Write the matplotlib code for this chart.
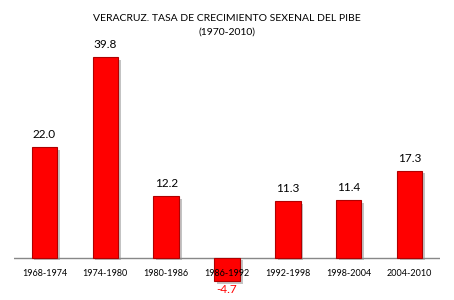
import matplotlib
matplotlib.use("Agg")
import matplotlib.pyplot as plt
import matplotlib.patheffects as pe

periods = ["1968-1974", "1974-1980", "1980-1986", "1986-1992", "1992-1998", "1998-2004", "2004-2010"]
growth = [22.0, 39.8, 12.2, -4.7, 11.3, 11.4, 17.3]
title = "VERACRUZ. TASA DE CRECIMIENTO SEXENAL DEL PIBE\n(1970-2010)"

plt.rcParams['font.family'] = ['Lato', 'DejaVu Sans']

fig = plt.figure(figsize=(4.54, 3.0), dpi=100)
ax = fig.add_axes([14/454, 2/300, 426/454, 267/300])
ax.set_xlim(-0.5, len(periods) - 0.5)
ax.set_ylim(-8, 45)

x = range(len(periods))
bars = ax.bar(x, growth, width=0.42, color="#FF0000", edgecolor="#B00000", linewidth=0.8, zorder=2)
for b in bars:
    b.set_path_effects([pe.SimplePatchShadow(offset=(2, -2), shadow_rgbFace="#888888", alpha=0.5), pe.Normal()])

for xi, v in zip(x, growth):
    if v >= 0:
        ax.annotate(f"{v:.1f}", (xi, v), xytext=(0, 5), textcoords="offset points",
                    ha="center", va="bottom", fontsize=8.5, color="#000000")
    else:
        ax.annotate(f"{v:.1f}", (xi, v), xytext=(0, -2), textcoords="offset points",
                    ha="center", va="top", fontsize=8.5, color="#FF0000")

for xi, lab in zip(x, periods):
    ax.text(xi, -3.2, lab, ha="center", va="center", fontsize=6.5, color="#000000", zorder=3)

ax.axhline(0, color="#888888", linewidth=1.0, zorder=1)
for s in ax.spines.values():
    s.set_visible(False)
ax.set_xticks([])
ax.set_yticks([])

fig.text(0.5, 1 - 25/300, title, ha="center", va="center", fontsize=7.5, linespacing=1.7)

fig.savefig("out.png", dpi=100)
